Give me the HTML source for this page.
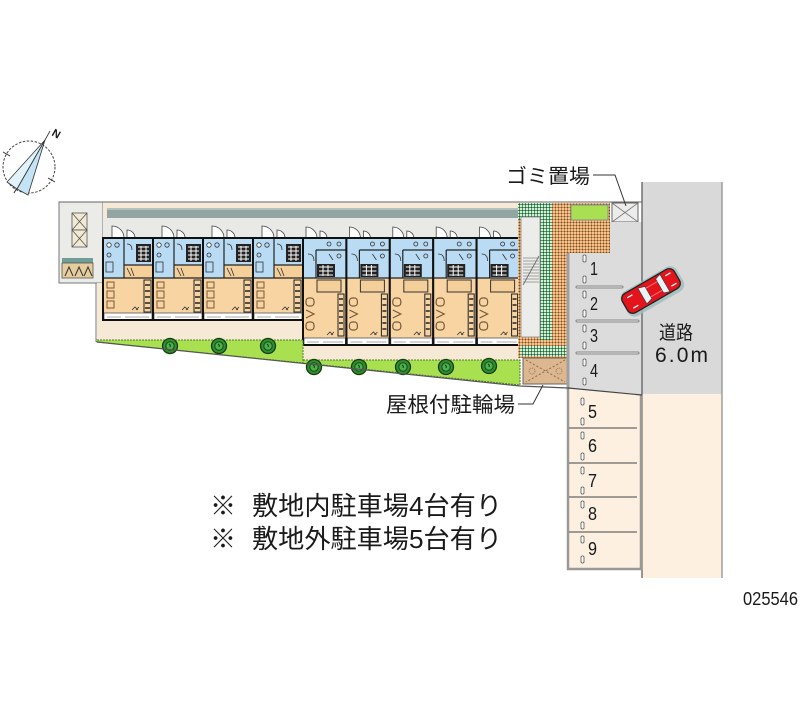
<!DOCTYPE html>
<html><head><meta charset="utf-8">
<style>
html,body{margin:0;padding:0;background:#fff;}
svg{display:block;}
text{font-family:"Liberation Sans","Noto Sans CJK JP",sans-serif;fill:#1a1a1a;}
</style></head><body>
<svg width="800" height="727" viewBox="0 0 800 727" xmlns="http://www.w3.org/2000/svg">
<defs>
<pattern id="tileO" width="3" height="3" patternUnits="userSpaceOnUse">
 <rect width="3" height="3" fill="#f6c28e"/>
 <rect width="3" height="1" fill="#c98a52"/>
 <rect width="1" height="3" fill="#c98a52"/>
 <rect width="1" height="1" fill="#5e5a34"/>
</pattern>
<pattern id="tileG" width="3" height="3" patternUnits="userSpaceOnUse">
 <rect width="3" height="3" fill="#dcebd6"/>
 <rect width="3" height="1" fill="#4f9a6a"/>
 <rect width="1" height="3" fill="#4f9a6a"/>
 <rect width="1" height="1" fill="#1f5a3a"/>
</pattern>

<g id="tree">
 <circle r="8.5" fill="#c8e070" opacity="0.6"/>
 <circle r="7.5" fill="#2f8f2f" stroke="#153a15" stroke-width="1.3"/>
 <circle r="4.2" fill="#4cb04c" stroke="#164a16" stroke-width="1"/>
 <path d="M-1,-2 q2,1 1,3" stroke="#0f3a0f" stroke-width="1" fill="none"/>
</g>

<g id="u1">
 <path d="M9,0 V-12 A12,12 0 0 1 21,0 Z" fill="#fff" stroke="#444" stroke-width="0.8"/>
 <path d="M24,0 V-8 A8,8 0 0 1 32,0 Z" fill="#fff" stroke="#444" stroke-width="0.8"/>
 <rect x="0" y="0" width="50" height="82" fill="#f8d4a2"/>
 <rect x="0" y="0" width="50" height="27" fill="#b9dcf4"/>
 <rect x="0" y="27" width="21" height="13" fill="#b9dcf4"/>
 <rect x="21" y="27" width="29" height="13" fill="#f5cf9a"/>
 <path d="M21,0 V40 M0,40 H50 M21,27 H50" stroke="#222" stroke-width="1.2" fill="none"/>
 <rect x="33" y="6" width="15" height="18" fill="#222"/>
 <path d="M35,9 h11 M35,13 h11 M35,17 h11 M35,21 h11 M38,8 v15 M43,8 v15" stroke="#fff" stroke-width="1"/>
 <circle cx="6" cy="7" r="2.2" fill="#fff" stroke="#333" stroke-width="0.8"/>
 <circle cx="14" cy="7" r="2.2" fill="none" stroke="#333" stroke-width="0.8"/>
 <circle cx="6" cy="17" r="2" fill="none" stroke="#333" stroke-width="0.8"/>
 <rect x="3" y="24" width="7" height="10" fill="none" stroke="#333" stroke-width="0.8"/>
 <path d="M24,6 q5,0 5,6 M24,30 l4,8 M28,30 l3,8" stroke="#333" stroke-width="0.8" fill="none"/>
 <rect x="41" y="42" width="7" height="32" fill="#f8d4a2" stroke="#222" stroke-width="1"/>
 <path d="M42,47 h5 M42,53 h5 M42,59 h5 M42,65 h5 M42,70 h5" stroke="#222" stroke-width="1.4"/>
 <rect x="4" y="44" width="7" height="6" fill="none" stroke="#7a5a3a" stroke-width="1"/>
 <rect x="4" y="53" width="7" height="7" fill="none" stroke="#7a5a3a" stroke-width="1"/>
 <rect x="4" y="63" width="7" height="7" fill="none" stroke="#7a5a3a" stroke-width="1"/>
 <path d="M29,72 l3,-3 l3,3 M33,72 l3,-3" stroke="#333" stroke-width="0.8" fill="none"/>
 <rect x="1" y="75" width="48" height="7" fill="#fff" stroke="#555" stroke-width="0.8"/>
 <path d="M4,79 h14 M22,79 h24" stroke="#aaa" stroke-width="1"/>
 <rect x="0" y="0" width="50" height="82" fill="none" stroke="#111" stroke-width="2"/>
</g>

<g id="u2">
 <path d="M3,0 V-11 A11,11 0 0 1 14,0 Z" fill="#fff" stroke="#444" stroke-width="0.8"/>
 <path d="M17,0 V-7 A7,7 0 0 1 24,0 Z" fill="#fff" stroke="#444" stroke-width="0.8"/>
 <rect x="0" y="0" width="43.4" height="107" fill="#f8d4a2"/>
 <rect x="0" y="0" width="43.4" height="40" fill="#b9dcf4"/>
 <path d="M0,40 H43.4 M13,12 H43.4 M13,12 V40" stroke="#222" stroke-width="1.2" fill="none"/>
 <rect x="14" y="26" width="18" height="13" fill="#222"/>
 <path d="M16,29 h14 M16,33 h14 M16,37 h14 M20,27 v11 M25,27 v11" stroke="#fff" stroke-width="1"/>
 <circle cx="26" cy="6" r="2" fill="none" stroke="#333" stroke-width="0.8"/>
 <circle cx="36" cy="6" r="2" fill="none" stroke="#333" stroke-width="0.8"/>
 <circle cx="36" cy="18" r="2" fill="none" stroke="#333" stroke-width="0.8"/>
 <path d="M5,16 q6,0 6,7 M26,16 l4,6" stroke="#333" stroke-width="0.8" fill="none"/>
 <rect x="14" y="42" width="24" height="12" fill="#f5cf9a" stroke="#333" stroke-width="1"/>
 <rect x="35" y="56" width="6" height="42" fill="#f8d4a2" stroke="#222" stroke-width="1"/>
 <path d="M36,61 h4 M36,67 h4 M36,73 h4 M36,79 h4 M36,85 h4 M36,91 h4" stroke="#222" stroke-width="1.4"/>
 <rect x="3" y="60" width="8" height="8" rx="3" fill="none" stroke="#7a5a3a" stroke-width="1.2"/>
 <path d="M3,72 l8,4 l-8,4" fill="none" stroke="#7a5a3a" stroke-width="1.2"/>
 <rect x="3" y="84" width="8" height="8" rx="3" fill="none" stroke="#7a5a3a" stroke-width="1.2"/>
 <path d="M24,97 l3,-3 l3,3 M28,97 l3,-3" stroke="#333" stroke-width="0.8" fill="none"/>
 <rect x="1" y="100" width="41.4" height="7" fill="#fff" stroke="#555" stroke-width="0.8"/>
 <path d="M4,104 h12 M20,104 h20" stroke="#aaa" stroke-width="1"/>
 <rect x="0" y="0" width="43.4" height="107" fill="none" stroke="#111" stroke-width="2"/>
</g>
</defs>

<!-- Compass -->
<circle cx="29" cy="167" r="26" fill="none" stroke="#444" stroke-width="1" stroke-dasharray="2.5,1.5"/>
<path d="M10,156 L3,152 M48,178 L55,182 M18,186 L14,193" stroke="#333" stroke-width="1"/>
<path d="M45,140 L7,182 L17,189 Z" fill="#e2f2fb" stroke="#333" stroke-width="0.8"/>
<path d="M45,140 L17,189 L28,195 Z" fill="#c4e3f4" stroke="#333" stroke-width="0.8"/>
<path d="M45,140 L50,131" stroke="#333" stroke-width="0.8"/>
<text x="0" y="0" font-size="11" font-weight="bold" transform="translate(51,135) rotate(30)">N</text>

<!-- Left panel -->
<rect x="59" y="202" width="44" height="81" fill="#ebebe8" stroke="#777" stroke-width="1"/>
<rect x="72" y="213" width="15" height="17" fill="#f1e9d4" stroke="#555" stroke-width="0.8"/>
<rect x="72" y="230" width="15" height="17" fill="#f1e9d4" stroke="#555" stroke-width="0.8"/>
<path d="M72,213 L87,230 M87,213 L72,230 M72,230 L87,247 M87,230 L72,247" stroke="#555" stroke-width="0.8"/>
<rect x="62" y="258" width="31" height="5" fill="#6f9e99"/>
<rect x="62" y="263" width="31" height="15" fill="#e6cd9c" stroke="#555" stroke-width="0.8"/>
<path d="M65,276 l4,-9 l4,9 M75,276 l4,-9 l4,9 M84,276 l4,-9 l4,9" stroke="#333" stroke-width="1" fill="none"/>

<!-- Main building background -->
<path d="M103,202 H520 V360 H303 V340 H97 V283 H103 Z" fill="#f6e9d6"/>
<rect x="107" y="208" width="411" height="10" fill="#93a5a2"/>
<rect x="107" y="208" width="411" height="2" fill="#b4c2bf"/>
<rect x="103" y="218" width="417" height="20" fill="#e9e9e5"/>
<line x1="59" y1="202" x2="642" y2="202" stroke="#666" stroke-width="1"/>
<line x1="96" y1="283" x2="96" y2="342" stroke="#777" stroke-width="1"/>

<!-- Units -->
<use href="#u1" transform="translate(103,238)"/>
<use href="#u1" transform="translate(153,238)"/>
<use href="#u1" transform="translate(203,238)"/>
<use href="#u1" transform="translate(253,238)"/>
<use href="#u2" transform="translate(303,238)"/>
<use href="#u2" transform="translate(346.4,238)"/>
<use href="#u2" transform="translate(389.8,238)"/>
<use href="#u2" transform="translate(433.2,238)"/>
<use href="#u2" transform="translate(476.6,238)"/>

<!-- Green strips -->
<path d="M97,340 H303 V363 L97,342 Z" fill="#a8e050" stroke="#4f7a2a" stroke-width="1" stroke-dasharray="2,1"/>
<path d="M303,360 H520 V385 L303,363 Z" fill="#a8e050" stroke="#4f7a2a" stroke-width="1" stroke-dasharray="2,1"/>
<use href="#tree" transform="translate(170,346)"/>
<use href="#tree" transform="translate(219,346)"/>
<use href="#tree" transform="translate(268,346)"/>
<use href="#tree" transform="translate(314,367)"/>
<use href="#tree" transform="translate(359,367)"/>
<use href="#tree" transform="translate(403,367)"/>
<use href="#tree" transform="translate(446,367)"/>
<use href="#tree" transform="translate(489,366)"/>

<!-- Tile areas -->
<path d="M518,203 H610 V253 H568 V358 H518 Z" fill="url(#tileO)"/>
<rect x="518" y="203" width="34" height="17" fill="url(#tileG)"/>
<rect x="540" y="218" width="12" height="122" fill="url(#tileG)"/>
<rect x="520" y="346" width="48" height="10" fill="url(#tileG)"/>
<rect x="521" y="217" width="19" height="120" fill="#ececea" stroke="#888" stroke-width="0.8"/>
<path d="M523,258 h16 M523,261 h16 M523,264 h16 M523,267 h16 M523,270 h16 M523,273 h16 M523,276 h16 M523,279 h16 M523,282 h16" stroke="#888" stroke-width="0.7"/>
<path d="M523,285 L539,256" stroke="#666" stroke-width="0.8"/>
<rect x="571" y="205" width="37" height="15" fill="#a9e052" stroke="#8a8a8a" stroke-width="1"/>

<!-- Bike shed -->
<rect x="523" y="358" width="45" height="26" fill="#dcb78f" stroke="#666" stroke-width="1"/>
<path d="M526,360 L565,382 M565,360 L526,382" stroke="#8a6a4a" stroke-width="1" stroke-dasharray="2,2"/>
<circle cx="532" cy="371" r="3" fill="none" stroke="#8a6a4a" stroke-width="0.8" stroke-dasharray="1,1"/>
<circle cx="559" cy="371" r="3" fill="none" stroke="#8a6a4a" stroke-width="0.8" stroke-dasharray="1,1"/>

<!-- Trash box -->
<rect x="612" y="203" width="26" height="19" fill="#ececea" stroke="#666" stroke-width="1"/>
<path d="M612,203 L638,222 M638,203 L612,222" stroke="#777" stroke-width="0.8"/>

<!-- Parking (inside) -->
<path d="M610,222 H642 V395 L568,388 V253 H610 Z" fill="#dcdcdc"/>
<line x1="568" y1="253" x2="568" y2="390" stroke="#a0a0a0" stroke-width="3"/>
<g stroke-linecap="round">
 <line x1="577" y1="287" x2="622" y2="287" stroke="#888" stroke-width="3"/>
 <line x1="577" y1="287" x2="622" y2="287" stroke="#e4e4e4" stroke-width="1"/>
 <line x1="577" y1="321" x2="638" y2="321" stroke="#888" stroke-width="3"/>
 <line x1="577" y1="321" x2="638" y2="321" stroke="#e4e4e4" stroke-width="1"/>
 <line x1="577" y1="353" x2="638" y2="353" stroke="#888" stroke-width="3"/>
 <line x1="577" y1="353" x2="638" y2="353" stroke="#e4e4e4" stroke-width="1"/>
</g>
<g fill="#fff" stroke="#555" stroke-width="0.8">
 <rect x="583" y="255" width="3" height="7" rx="1.2"/>
 <rect x="583" y="276" width="3" height="7" rx="1.2"/>
 <rect x="583" y="291" width="3" height="7" rx="1.2"/>
 <rect x="583" y="310" width="3" height="7" rx="1.2"/>
 <rect x="583" y="325" width="3" height="7" rx="1.2"/>
 <rect x="583" y="342" width="3" height="7" rx="1.2"/>
 <rect x="583" y="359" width="3" height="7" rx="1.2"/>
 <rect x="583" y="378" width="3" height="7" rx="1.2"/>
</g>

<!-- Road -->
<rect x="642" y="182" width="80" height="212" fill="#d9d9d9"/>
<rect x="642" y="394" width="80" height="184" fill="#fdf0e1"/>
<line x1="642" y1="182" x2="642" y2="578" stroke="#555" stroke-width="1.2"/>
<line x1="722" y1="182" x2="722" y2="578" stroke="#888" stroke-width="1.2"/>

<!-- Outside parking -->
<path d="M568,389 L641,395 V569 H568 Z" fill="#fdf0e1"/>
<path d="M568,389 V569 H641 V395" fill="none" stroke="#999" stroke-width="2.5"/>
<path d="M568,388 L642,395" stroke="#444" stroke-width="1.2"/>
<g stroke="#666" stroke-width="1.2">
 <line x1="569" y1="428" x2="637" y2="428"/>
 <line x1="569" y1="463" x2="637" y2="463"/>
 <line x1="569" y1="497" x2="637" y2="497"/>
 <line x1="569" y1="532" x2="637" y2="532"/>
</g>
<g fill="#fff" stroke="#555" stroke-width="0.8">
 <rect x="581" y="398" width="3" height="7" rx="1.2"/>
 <rect x="581" y="418" width="3" height="7" rx="1.2"/>
 <rect x="581" y="432" width="3" height="7" rx="1.2"/>
 <rect x="581" y="453" width="3" height="7" rx="1.2"/>
 <rect x="581" y="467" width="3" height="7" rx="1.2"/>
 <rect x="581" y="487" width="3" height="7" rx="1.2"/>
 <rect x="581" y="501" width="3" height="7" rx="1.2"/>
 <rect x="581" y="522" width="3" height="7" rx="1.2"/>
 <rect x="581" y="536" width="3" height="7" rx="1.2"/>
 <rect x="581" y="556" width="3" height="7" rx="1.2"/>
</g>

<!-- site boundary slant -->
<polyline points="97,342 520,386 568,388" fill="none" stroke="#555" stroke-width="1.2"/>

<!-- Car -->
<g transform="translate(651,291) rotate(-30)">
 <rect x="-31" y="-13" width="64" height="28" rx="8" fill="#9bbcbc" opacity="0.8"/>
 <rect x="-30" y="-11" width="60" height="22" rx="6" fill="#e3141c" stroke="#222" stroke-width="1.3"/>
 <path d="M-10,-9 L-3,-7 V7 L-10,9 Z" fill="#e8f4f8" stroke="#333" stroke-width="0.6"/>
 <path d="M10,-8 L16,-10 V10 L10,8 Z" fill="#e8f4f8" stroke="#333" stroke-width="0.6"/>
 <path d="M-3,-5 H10 M-3,5 H10" stroke="#ff7070" stroke-width="1"/>
 <path d="M-24,-6 h6 M-24,6 h6 M20,-6 h6 M20,6 h6" stroke="#fff" stroke-width="1.2"/>
</g>

<!-- Parking numbers -->
<g font-size="18">
 <text x="590" y="275" textLength="8" lengthAdjust="spacingAndGlyphs">1</text>
 <text x="590" y="310" textLength="8" lengthAdjust="spacingAndGlyphs">2</text>
 <text x="590" y="342" textLength="8" lengthAdjust="spacingAndGlyphs">3</text>
 <text x="590" y="377" textLength="8" lengthAdjust="spacingAndGlyphs">4</text>
 <text x="588" y="418" textLength="9" lengthAdjust="spacingAndGlyphs">5</text>
 <text x="588" y="452" textLength="9" lengthAdjust="spacingAndGlyphs">6</text>
 <text x="588" y="487" textLength="9" lengthAdjust="spacingAndGlyphs">7</text>
 <text x="588" y="520" textLength="9" lengthAdjust="spacingAndGlyphs">8</text>
 <text x="588" y="555" textLength="9" lengthAdjust="spacingAndGlyphs">9</text>
</g>

<!-- Road label -->
<text x="659" y="339" font-size="19" textLength="34" lengthAdjust="spacingAndGlyphs">道路</text>
<text x="655" y="362" font-size="21" textLength="53" lengthAdjust="spacing">6.0m</text>

<!-- Labels with leaders -->
<text x="506" y="183" font-size="20" textLength="84" lengthAdjust="spacingAndGlyphs">ゴミ置場</text>
<polyline points="593,175 615,175 626,206" fill="none" stroke="#333" stroke-width="1"/>
<text x="386" y="412" font-size="21" textLength="129" lengthAdjust="spacingAndGlyphs">屋根付駐輪場</text>
<polyline points="518,404 533,404 543,385" fill="none" stroke="#333" stroke-width="1"/>

<!-- Bottom notes -->
<text x="210" y="515" font-size="26">※</text>
<text x="252" y="515" font-size="26" textLength="250" lengthAdjust="spacingAndGlyphs">敷地内駐車場4台有り</text>
<text x="210" y="548" font-size="26">※</text>
<text x="252" y="548" font-size="26" textLength="250" lengthAdjust="spacingAndGlyphs">敷地外駐車場5台有り</text>

<text x="743" y="605" font-size="18" textLength="55" lengthAdjust="spacingAndGlyphs">025546</text>
</svg>
</body></html>
